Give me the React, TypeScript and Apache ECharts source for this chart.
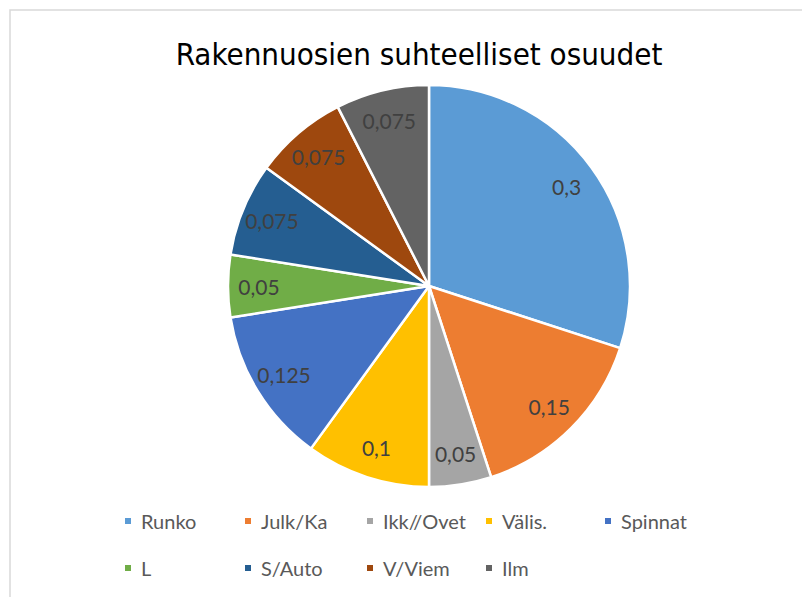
import React, { useEffect, useRef } from "react";
import * as echarts from "echarts";

const categories = ["Runko", "Julk/Ka", "Ikk//Ovet", "Välis.", "Spinnat", "L", "S/Auto", "V/Viem", "Ilm"];
const values = [0.3, 0.15, 0.05, 0.1, 0.125, 0.05, 0.075, 0.075, 0.075];
const colors = ["#5B9BD5", "#ED7D31", "#A5A5A5", "#FFC000", "#4472C4", "#70AD47", "#255E91", "#9E480E", "#636363"];
const titleText = "Rakennuosien suhteelliset osuudet";

const legendCols = [123, 243, 365, 484, 603];
const legendRows = [511, 558];

export default function App() {
  const ref = useRef<HTMLDivElement>(null);
  useEffect(() => {
    document.body.style.margin = "0";
    const chart = echarts.init(ref.current!, null, { renderer: "svg" });
    const data = categories.map((name, i) => ({
      name,
      value: values[i],
      itemStyle: { color: colors[i] },
    }));
    const fmt = (v: number) => String(v).replace(".", ",");
    const legends = categories.map((name, i) => ({
      icon: "rect",
      itemWidth: 8,
      itemHeight: 8,
      orient: "horizontal",
      selectedMode: false,
      padding: 0,
      left: legendCols[i % 5],
      top: legendRows[Math.floor(i / 5)],
      data: [name],
      textStyle: {
        fontFamily: "Lato",
        fontSize: 20,
        color: "#595959",
        padding: [0, 0, 0, 4],
      },
    }));
    chart.setOption({
      animation: false,
      backgroundColor: "#ffffff",
      title: {
        text: titleText,
        left: 414,
        textAlign: "center",
        top: 33,
        textStyle: {
          fontFamily: "DejaVu Sans Condensed",
          fontSize: 31,
          fontWeight: "normal",
          color: "#000000",
        },
      },
      graphic: [
        {
          type: "rect",
          shape: { x: 10, y: 10, width: 900, height: 900 },
          style: { fill: "none", stroke: "#d9d9d9", lineWidth: 1.5 },
          silent: true,
        },
      ],
      legend: legends,
      series: [
        {
          type: "pie",
          center: [429, 286],
          radius: [0, 201],
          startAngle: 90,
          clockwise: true,
          data,
          label: { show: false },
          labelLine: { show: false },
          itemStyle: { borderColor: "#ffffff", borderWidth: 2.5 },
          silent: true,
        },
        {
          type: "pie",
          center: [429, 286],
          radius: [132, 202],
          startAngle: 90,
          clockwise: true,
          data: categories.map((name, i) => ({ name: name + " ", value: values[i] })),
          itemStyle: { color: "rgba(0,0,0,0)" },
          label: {
            show: true,
            position: "inside",
            formatter: (p: any) => fmt(p.value),
            fontFamily: "Lato",
            fontSize: 21,
            color: "#404040",
          },
          labelLine: { show: false },
          silent: true,
        },
      ],
    });
    return () => chart.dispose();
  }, []);
  return <div ref={ref} style={{ width: 802, height: 597 }} />;
}
